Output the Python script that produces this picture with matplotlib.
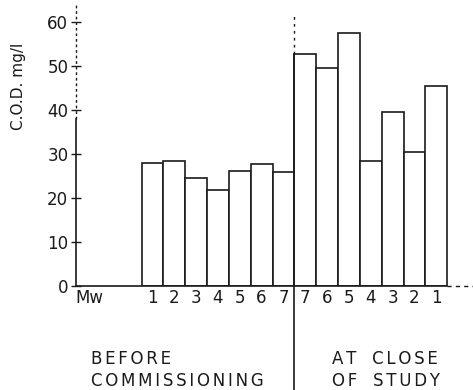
import matplotlib
matplotlib.use("Agg")
import matplotlib.pyplot as plt
import numpy as np

# Data
before_labels = ["1", "2", "3", "4", "5", "6", "7"]
before_values = [27.9, 28.5, 24.6, 21.8, 26.2, 27.7, 25.8]
after_labels = ["7", "6", "5", "4", "3", "2", "1"]
after_values = [52.7, 49.5, 57.4, 28.4, 39.5, 30.4, 45.5]
y_ticks = [0, 10, 20, 30, 40, 50, 60]

labels = before_labels + after_labels
values = before_values + after_values
xs = np.arange(len(values))

INK = "#1a1a1a"
W, H = 473, 390
fig = plt.figure(figsize=(W / 100, H / 100), dpi=100)
ax_left, ax_bottom = 76 / W, 104 / H
ax = fig.add_axes([ax_left, ax_bottom, 1 - ax_left, 281.6 / H])

ax.bar(xs, values, width=1.0, facecolor="white", edgecolor=INK, linewidth=1.2, zorder=2)

ax.set_xlim(-3.5, 14.68)
ax.set_ylim(0, 64)

for s in ["top", "right", "left", "bottom"]:
    ax.spines[s].set_visible(False)

# axes drawn manually: solid lower, dashed upper
ax.plot([-3.5, -3.5], [0, 38], color=INK, lw=1.2, clip_on=False, zorder=3)
ax.plot([-3.5, -3.5], [38, 64], color=INK, lw=1.0, ls=(0, (2, 2)), clip_on=False, zorder=3)
ax.plot([-3.5, 13.5], [0, 0], color=INK, lw=1.2, clip_on=False, zorder=3)
ax.plot([13.5, 14.68], [0, 0], color=INK, lw=1.0, ls=(0, (3, 3)), clip_on=False, zorder=3)

# divider line
div_x = len(before_values) - 0.5
ax.plot([div_x, div_x], [-23.6, after_values[0]], color=INK, lw=1.2, clip_on=False, zorder=3)
ax.plot([div_x, div_x], [after_values[0], 61.8], color=INK, lw=1.0, ls=(0, (2, 3)), clip_on=False, zorder=3)

ax.set_yticks(y_ticks)
ax.set_yticklabels([str(t) for t in y_ticks], fontsize=12, color=INK)
ax.tick_params(axis="y", direction="inout", length=7, width=1.0, pad=2, colors=INK)

ax.set_xticks(list(xs) + [-2.9])
ax.set_xticklabels(labels + ["Mw"], fontsize=12, color=INK)
ax.tick_params(axis="x", length=0, pad=2)

fig.text(18 / W, 1 - 86 / H, "C.O.D. mg/l", rotation=90, ha="center", va="center",
         fontsize=11, color=INK)


def spaced(s):
    return "\u2006".join(s)


fig.text(91 / W, 1 - 359 / H, spaced("BEFORE"), ha="left", va="center", fontsize=12, color=INK)
fig.text(91 / W, 1 - 381 / H, spaced("COMMISSIONING"), ha="left", va="center", fontsize=12, color=INK)
fig.text(332 / W, 1 - 359 / H, spaced("AT") + "   " + spaced("CLOSE"), ha="left", va="center", fontsize=12, color=INK)
fig.text(332 / W, 1 - 381 / H, spaced("OF") + "   " + spaced("STUDY"), ha="left", va="center", fontsize=12, color=INK)

fig.savefig("out.png", dpi=100, facecolor="white")
